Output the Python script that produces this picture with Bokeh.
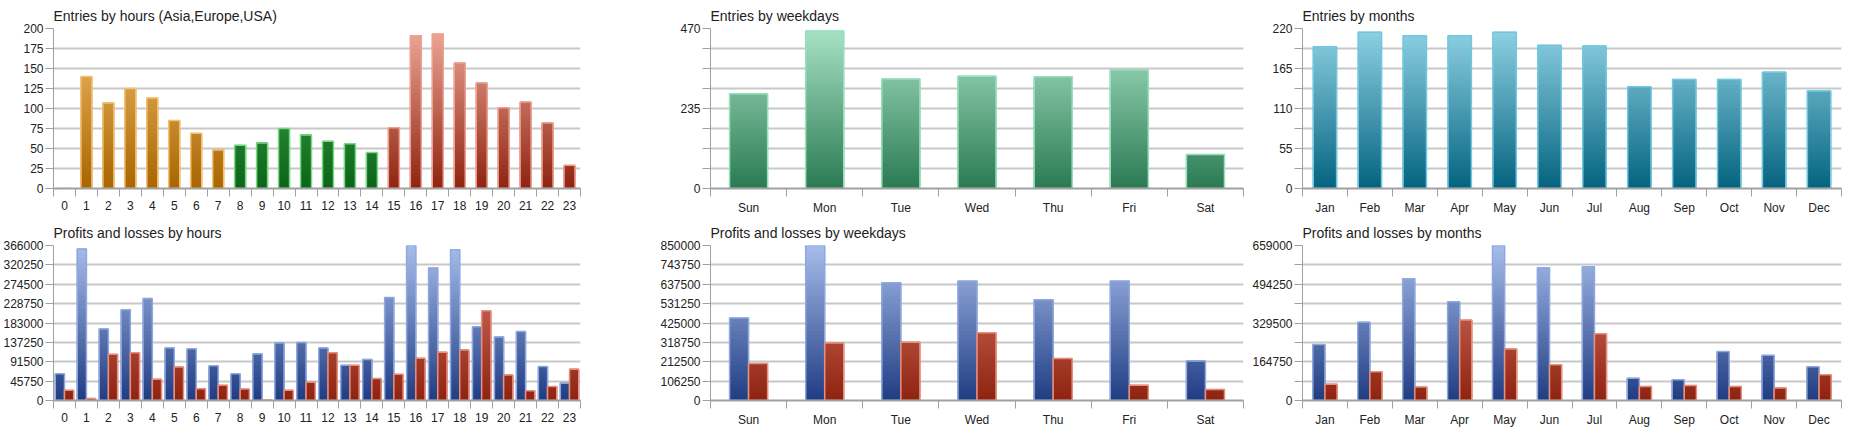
from bokeh.plotting import figure
from bokeh.layouts import gridplot
from bokeh.models import FixedTicker, Range1d
from bokeh.embed import file_html
from bokeh.resources import INLINE

hours = [str(h) for h in range(24)]
hour_entries = [0,140,107,125,113,85,69,48,54,57,75,67,59,56,45,76,191,193,157,132,101,108,82,29]
hour_profit = [63000,358000,169000,214000,241000,124000,122000,82000,63000,110000,136000,137000,124000,83000,97000,243000,366000,313000,356000,174000,150000,163000,80000,41000]
hour_loss = [24000,5000,109000,113000,50000,79000,28000,36000,27000,1000,24000,43000,113000,83000,52000,62000,100000,114000,119000,212000,60000,23000,33000,74000]

days = ["Sun","Mon","Tue","Wed","Thu","Fri","Sat"]
day_entries = [278,463,322,330,328,349,100]
day_profit = [452000,850000,646000,655000,552000,655000,217000]
day_loss = [203000,315000,319000,371000,231000,84000,61000]

months = ["Jan","Feb","Mar","Apr","May","Jun","Jul","Aug","Sep","Oct","Nov","Dec"]
month_entries = [195,215,210,210,215,197,196,140,150,150,160,134]
month_profit = [238000,333000,518000,420000,659000,564000,569000,95000,88000,208000,192000,144000]
month_loss = [69000,122000,57000,342000,219000,152000,284000,60000,64000,60000,53000,109000]

FONT = "Liberation Sans"
ORANGE = ("#a86500", "#f0bc6a", "#f5c070")
GREEN = ("#0b6418", "#4eb05a", "#7ad884")
RED = ("#8e2310", "#eea898", "#f0a090")
BLUE = ("#203c82", "#a6bdeb", "#90a8e0")
LOSS = ("#8e2310", "#e08070", "#e89080")
TEAL = ("#2a7a52", "#a8e2c6", "#98e0bc")
CYAN = ("#04637f", "#90d2e4", "#70c8e0")


def hexrgb(c):
    return tuple(int(c[i:i + 2], 16) for i in (1, 3, 5))


def mix(c1, c2, t):
    a, b = hexrgb(c1), hexrgb(c2)
    return "#%02x%02x%02x" % tuple(int(round(a[i] + (b[i] - a[i]) * t)) for i in range(3))


def make_fig(title, n, ymax, step_label, step_grid, left, right, top, bottom, w, h, labels):
    p = figure(width=w, height=h, output_backend="svg", toolbar_location=None,
               x_range=Range1d(-0.5, n - 0.5), y_range=Range1d(0, ymax),
               min_border_left=left, min_border_right=right,
               min_border_top=top, min_border_bottom=bottom, title=title)
    p.title.text_font = FONT
    p.title.text_font_size = "14px"
    p.title.text_font_style = "normal"
    p.title.text_color = "#222222"
    p.title.offset = 0
    p.outline_line_color = None
    p.xgrid.visible = False
    grid = []
    k = 0
    while k * step_grid <= ymax + 1e-6:
        grid.append(k * step_grid)
        k += 1
    overrides = {}
    for g in grid:
        r = g / step_label
        overrides[g] = ("%d" % round(g)) if abs(r - round(r)) < 1e-6 else ""
    p.yaxis.ticker = FixedTicker(ticks=grid)
    p.yaxis.major_label_overrides = overrides
    p.ygrid.grid_line_color = "#c8c8c8"
    p.ygrid.grid_line_width = 2
    p.yaxis.axis_line_color = "#a0a0a0"
    p.yaxis.major_tick_line_color = "#a0a0a0"
    p.yaxis.major_tick_in = 0
    p.yaxis.major_tick_out = 8
    p.yaxis.minor_tick_line_color = None
    p.xaxis.ticker = FixedTicker(ticks=list(range(n)), minor_ticks=[i - 0.5 for i in range(n + 1)])
    p.xaxis.major_label_overrides = {i: labels[i] for i in range(n)}
    p.xaxis.major_tick_line_color = None
    p.xaxis.minor_tick_line_color = "#a0a0a0"
    p.xaxis.minor_tick_in = 0
    p.xaxis.minor_tick_out = 8
    p.xaxis.axis_line_color = "#a0a0a0"
    p.xaxis.axis_line_width = 2
    for ax in (p.xaxis, p.yaxis):
        ax.major_label_text_font = FONT
        ax.major_label_text_font_size = "12px"
        ax.major_label_text_color = "#222222"
    p.yaxis.major_label_standoff = 2
    p.xaxis.major_label_standoff = 4
    return p


def bars(p, xs, vals, width, ymax, cols):
    lo, hi, edge = cols
    nseg = 40
    step = ymax / nseg
    X, B, T, C = [], [], [], []
    for x, v in zip(xs, vals):
        k = 0
        while k * step < v:
            b = k * step
            t = min((k + 1) * step, v)
            X.append(x)
            B.append(b)
            T.append(min(t + step * 0.6, v))
            C.append(mix(lo, hi, ((b + t) / 2) / ymax))
            k += 1
    p.vbar(x=X, bottom=B, top=T, width=width, fill_color=C, line_color=C, line_width=0.6)
    p.vbar(x=list(xs), top=list(vals), width=width, fill_color=None, line_color=edge, line_width=1.5)


H1, H2 = 217, 212
W1, W2, W3 = 620, 629, 596
# column 1
p1 = make_fig("Entries by hours (Asia,Europe,USA)", 24, 200, 25, 25, 42, 40, 27, 24, W1, H1, hours)
groups = [(range(0, 8), ORANGE), (range(8, 15), GREEN), (range(15, 24), RED)]
for rg, col in groups:
    bars(p1, list(rg), [hour_entries[i] for i in rg], 0.5, 200, col)
p4 = make_fig("Profits and losses by hours", 24, 366000, 45750, 45750, 42, 40, 22, 22, W1, H2, hours)
bars(p4, [i - 0.21 for i in range(24)], hour_profit, 0.42, 366000, BLUE)
bars(p4, [i + 0.21 for i in range(24)], hour_loss, 0.42, 366000, LOSS)

# column 2
p2 = make_fig("Entries by weekdays", 7, 470, 235, 58.75, 90, 6, 27, 24, W2, H1, days)
bars(p2, list(range(7)), day_entries, 0.5, 470, TEAL)
p5 = make_fig("Profits and losses by weekdays", 7, 850000, 106250, 106250, 90, 6, 22, 22, W2, H2, days)
bars(p5, [i - 0.125 for i in range(7)], day_profit, 0.25, 850000, BLUE)
bars(p5, [i + 0.125 for i in range(7)], day_loss, 0.25, 850000, LOSS)

# column 3
p3 = make_fig("Entries by months", 12, 220, 55, 27.5, 49, 4, 27, 24, W3, H1, months)
bars(p3, list(range(12)), month_entries, 0.52, 220, CYAN)
p6 = make_fig("Profits and losses by months", 12, 659000, 164750, 82375, 49, 4, 22, 22, W3, H2, months)
bars(p6, [i - 0.135 for i in range(12)], month_profit, 0.27, 659000, BLUE)
bars(p6, [i + 0.135 for i in range(12)], month_loss, 0.27, 659000, LOSS)

g = gridplot([[p1, p2, p3], [p4, p5, p6]], toolbar_location=None)
open("out.html", "w").write(file_html(g, INLINE))
